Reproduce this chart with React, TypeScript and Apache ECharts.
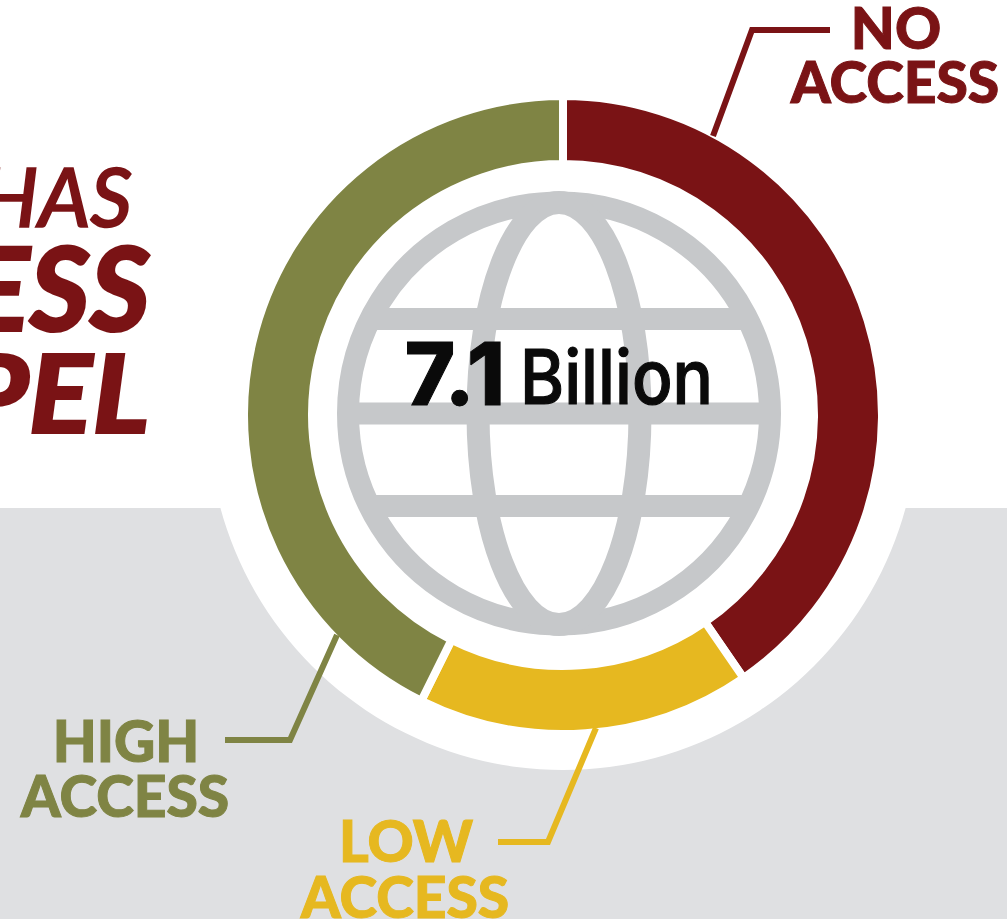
import React, { useEffect, useRef } from "react";
import * as echarts from "echarts";

const categories = ["No Access", "Low Access", "High Access"];
const billions = [2.87, 1.2, 3.03];
const sliceColors = ["#7a1315", "#e6b820", "#7f8444"];
const centerNumber = "7.1";
const centerUnit = "Billion";
const headingFragments = ["HAS", "ESS", "PEL"];

const W = 1007;
const H = 919;
const CX = 563;
const CY = 415;
const GX = 559;
const GY = 413.5;
const GREY = "#c6c8ca";

const txt = (text: string, x: number, y: number, fill: string, font: string, align = "center", extra: any = {}, bold = 1) => ({
  type: "text",
  x,
  y,
  z: 10,
  ...extra,
  style: { text, fill, font, textAlign: align, textVerticalAlign: "middle", stroke: bold ? fill : "none", lineWidth: bold },
});

const leader = (points: number[][], stroke: string) => ({
  type: "polyline",
  z: 5,
  shape: { points },
  style: { stroke, lineWidth: 6, fill: "none", lineJoin: "miter" },
});

const bar = (y: number, dx: number) => ({
  type: "line",
  z: 3,
  shape: { x1: GX - dx, y1: y, x2: GX + dx, y2: y },
  style: { stroke: GREY, lineWidth: 22 },
});

export default function App() {
  const ref = useRef<HTMLDivElement>(null);
  useEffect(() => {
    const chart = echarts.init(ref.current!, undefined, { renderer: "svg" });
    const labelFont = '900 57px Lato, "Open Sans", sans-serif';
    chart.setOption({
      animation: false,
      backgroundColor: "#ffffff",
      graphic: {
        elements: [
          { type: "rect", z: 0, shape: { x: 0, y: 508, width: W, height: H - 508 }, style: { fill: "#dfe0e2" } },
          { type: "circle", z: 1, shape: { cx: CX, cy: CY, r: 355 }, style: { fill: "#ffffff" } },
          // globe
          { type: "circle", z: 3, shape: { cx: GX, cy: GY, r: 211 }, style: { fill: "none", stroke: GREY, lineWidth: 22 } },
          { type: "ellipse", z: 3, shape: { cx: GX, cy: GY, rx: 81, ry: 211 }, style: { fill: "none", stroke: GREY, lineWidth: 23 } },
          bar(319, 189),
          bar(413.5, 211),
          bar(506, 189),
          // centre text
          txt(centerNumber, 505, 374, "#0a0a0a", '800 86px Inter, sans-serif', "right", {}, 1),
          txt(centerUnit, 520, 376, "#0a0a0a", '500 76px Inter, sans-serif', "left", { scaleX: 0.885 }, 1.2),
          // heading
          txt(headingFragments[0], 132, 195, "#7a1315", 'italic 500 82px Lato, sans-serif', "right", {}, 1.6),
          txt(headingFragments[1], 150, 286, "#7a1315", 'italic 900 116px Lato, sans-serif', "right", {}, 2),
          txt(headingFragments[2], 150, 391, "#7a1315", 'italic 900 108px Lato, sans-serif', "right", { scaleX: 1.1 }, 2),
          // leaders
          leader([[830, 30], [752, 30], [713, 136]], "#7a1315"),
          leader([[596, 728], [548, 842], [498, 842]], "#e6b820"),
          leader([[337, 635], [290, 740], [225, 740]], "#7f8444"),
          // labels
          txt("NO", 896, 27, "#7a1315", labelFont),
          txt("ACCESS", 895, 81, "#7a1315", labelFont),
          txt("HIGH", 126, 740, "#7f8444", labelFont),
          txt("ACCESS", 125, 795, "#7f8444", labelFont),
          txt("LOW", 406, 840, "#e6b820", labelFont),
          txt("ACCESS", 405, 896, "#e6b820", labelFont),
        ],
      },
      series: [
        {
          type: "pie",
          z: 4,
          center: [CX, CY],
          radius: [251, 319],
          startAngle: 90,
          clockwise: true,
          silent: true,
          label: { show: false },
          labelLine: { show: false },
          itemStyle: { borderColor: "#ffffff", borderWidth: 8 },
          data: categories.map((name, i) => ({
            name,
            value: billions[i],
            itemStyle: { color: sliceColors[i] },
          })),
        },
      ],
    });
    return () => chart.dispose();
  }, []);
  return <div ref={ref} style={{ position: "fixed", left: 0, top: 0, width: W, height: H }} />;
}
